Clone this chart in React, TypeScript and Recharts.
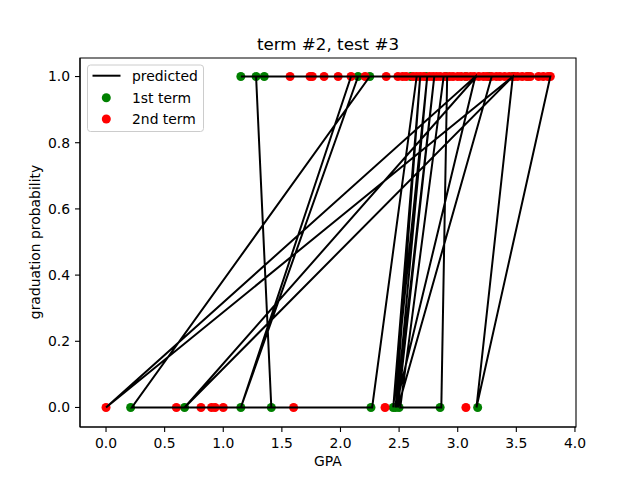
import { ScatterChart, Scatter, XAxis, YAxis, ReferenceArea } from 'recharts';

// GPA values, split by term and by outcome (0 = dropped, 1 = graduated)
const firstTermFail = [0.21, 0.67, 1.15, 1.41, 2.26, 2.45, 2.47, 2.5, 2.85, 3.17];
const firstTermPass = [1.15, 1.28, 1.35, 2.15, 2.25, 2.6, 2.73, 2.9, 3.07, 3.27, 3.47, 3.6];
const secondTermFail = [0.0, 0.6, 0.81, 0.9, 0.93, 1.0, 1.6, 2.38, 3.07];
const secondTermPass = [
  1.57, 1.74, 1.76, 1.86, 1.98, 2.09, 2.21, 2.39, 2.49, 2.53, 2.56, 2.62, 2.65, 2.68,
  2.71, 2.76, 2.79, 2.82, 2.85, 2.89, 2.93, 2.96, 3.0, 3.03, 3.07, 3.11, 3.14, 3.18,
  3.22, 3.25, 3.29, 3.33, 3.36, 3.4, 3.44, 3.48, 3.51, 3.55, 3.59, 3.62, 3.69, 3.73,
  3.77, 3.79,
];

// predicted line, in the (unsorted) order the model produced it
const predictedGpa = [
  1.15, 3.79, 3.16, 3.47, 0.0, 3.15, 2.47, 2.68, 2.45, 2.74, 2.48, 2.8, 2.49, 3.29, 2.88,
  2.51, 2.86, 2.91, 3.16, 0.67, 3.47, 2.09, 1.15, 2.15, 1.28, 1.41, 0.22, 2.25, 2.65, 2.27,
  1.41,
];
const predictedProb = [
  1, 1, 0, 1, 0, 1, 0, 1, 0, 1, 0, 1, 0, 1, 1,
  0, 0, 1, 1, 0, 1, 1, 0, 1, 1, 0, 0, 1, 1, 0,
  0,
];

const xTicks = [0, 0.5, 1, 1.5, 2, 2.5, 3, 3.5, 4];
const yTicks = [0, 0.2, 0.4, 0.6, 0.8, 1.0];

const X_MIN = -0.222;
const X_MAX = 4.009;
const Y_MIN = -0.059;
const Y_MAX = 1.056;

const toPoints = (xs: number[], y: number) => xs.map((x) => ({ x, y }));
const firstTerm = [...toPoints(firstTermFail, 0), ...toPoints(firstTermPass, 1)];
const secondTerm = [...toPoints(secondTermFail, 0), ...toPoints(secondTermPass, 1)];
const predicted = predictedGpa.map((x, i) => ({ x, y: predictedProb[i] }));

const FONT = '"DejaVu Sans", sans-serif';
const tickStyle = { fill: '#000', fontSize: 13.9, fontFamily: FONT };
const R = 4.5;

const dot = (color: string) => (props: any) => (
  <circle cx={props.cx} cy={props.cy} r={R} fill={color} />
);

export default function App() {
  return (
    <div style={{ position: 'absolute', left: 0, top: 0, width: 640, height: 480, background: '#fff' }}>
      <ScatterChart width={640} height={480} margin={{ top: 58, right: 64, bottom: 13, left: 20 }}>
        <XAxis
          type="number"
          dataKey="x"
          domain={[X_MIN, X_MAX]}
          ticks={xTicks}
          interval={0}
          allowDataOverflow
          tickFormatter={(v: number) => v.toFixed(1)}
          tick={tickStyle}
          tickLine={{ stroke: '#000', strokeWidth: 1.1 }}
          axisLine={{ stroke: '#000', strokeWidth: 1.1 }}
          tickSize={5}
          tickMargin={6}
          height={40}
        />
        <YAxis
          type="number"
          dataKey="y"
          domain={[Y_MIN, Y_MAX]}
          ticks={yTicks}
          interval={0}
          allowDataOverflow
          tickFormatter={(v: number) => v.toFixed(1)}
          tick={tickStyle}
          tickLine={{ stroke: '#000', strokeWidth: 1.1 }}
          axisLine={{ stroke: '#000', strokeWidth: 1.1 }}
          tickSize={5}
          tickMargin={5}
          width={60}
        />
        <ReferenceArea
          x1={X_MIN}
          x2={X_MAX}
          y1={Y_MIN}
          y2={Y_MAX}
          fill="none"
          stroke="#000"
          strokeWidth={1.1}
          ifOverflow="visible"
        />
        <Scatter data={firstTerm} shape={dot('#008000')} isAnimationActive={false} />
        <Scatter data={secondTerm} shape={dot('#ff0000')} isAnimationActive={false} />
        <Scatter
          data={predicted}
          line={{ stroke: '#000', strokeWidth: 2 }}
          lineType="joint"
          shape={() => <g />}
          isAnimationActive={false}
        />
      </ScatterChart>

      <svg
        width={640}
        height={480}
        style={{ position: 'absolute', left: 0, top: 0, pointerEvents: 'none' }}
        fontFamily={FONT}
      >
        <text x={328} y={50} textAnchor="middle" fontSize={16.7}>
          term #2, test #3
        </text>
        <text x={328} y={466} textAnchor="middle" fontSize={13.9}>
          GPA
        </text>
        <text x={40} y={242} textAnchor="middle" fontSize={13.9} transform="rotate(-90 40 242)">
          graduation probability
        </text>

        <rect x={87.5} y={65} width={116} height={66.5} rx={3} fill="#fff" fillOpacity={0.8} stroke="#ccc" />
        <line x1={92.5} y1={75.7} x2={120.5} y2={75.7} stroke="#000" strokeWidth={2} />
        <circle cx={106.3} cy={97.7} r={R} fill="#008000" />
        <circle cx={106.3} cy={119} r={R} fill="#ff0000" />
        <text x={132} y={80.7} fontSize={13.9}>predicted</text>
        <text x={132} y={102.7} fontSize={13.9}>1st term</text>
        <text x={132} y={124} fontSize={13.9}>2nd term</text>
      </svg>
    </div>
  );
}
